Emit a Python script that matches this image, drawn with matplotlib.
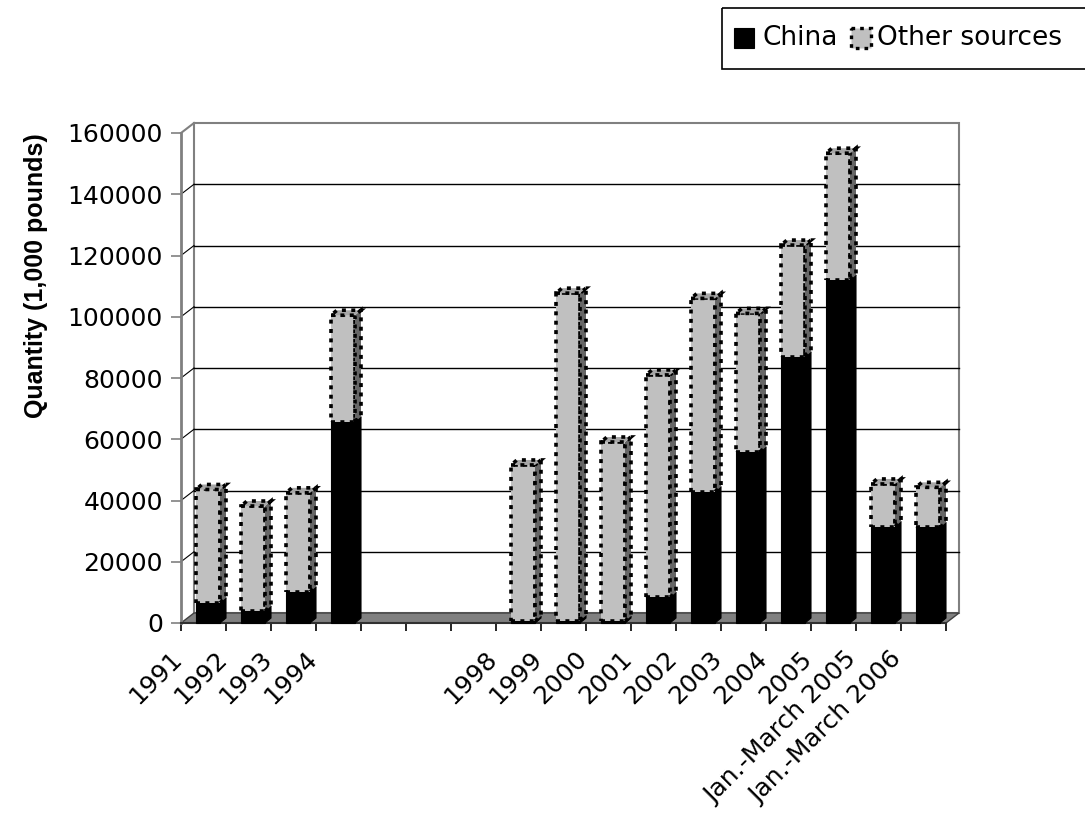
import numpy as np
import matplotlib.pyplot as plt
from matplotlib.patches import Polygon, Rectangle

plt.rcParams['font.family'] = ['DejaVu Sans']

# data (1,000 pounds)
categories = ["1991", "1992", "1993", "1994", "", "", "", "1998", "1999", "2000",
              "2001", "2002", "2003", "2004", "2005",
              "Jan.-March 2005", "Jan.-March 2006"]
china = [6600, 3900, 10200, 65700, 0, 0, 0, 600, 800, 600,
         8400, 42900, 55900, 86900, 112000, 31500, 31200]
other = [37000, 34300, 32300, 34800, 0, 0, 0, 51000, 106900, 58500,
         72600, 63100, 45200, 36500, 41400, 13900, 13100]
yticks = list(range(0, 160001, 20000))

n = len(categories)
ymax = 160000

fig = plt.figure(figsize=(10.85, 8.27), dpi=100)
ax = fig.add_axes([181 / 1085, 1 - 623 / 827, 765 / 1085, 490 / 827])
ax.set_xlim(0, n)
ax.set_ylim(0, ymax)

# pixel -> data helpers for the fake 3d look
px_x = n / 765
px_y = ymax / 490
DX, DY = 13 * px_x, 10 * px_y      # depth of the plot box
off, w = 15 * px_x, 24 * px_x      # bar front face
bdx, bdy = 6 * px_x, 5 * px_y      # bar depth

# back wall, gridlines, floor
ax.add_patch(Rectangle((DX, DY), n, ymax, fc='white', ec='#808080', lw=1.5,
                       clip_on=False, zorder=0))
for v in yticks[1:-1]:
    ax.plot([DX, n + DX], [v + DY, v + DY], color='black', lw=1, clip_on=False, zorder=1)
    ax.plot([0, DX], [v, v + DY], color='black', lw=0.8, clip_on=False, zorder=1)
ax.plot([0, DX], [ymax, ymax + DY], color='#808080', lw=1.5, clip_on=False, zorder=1)
ax.add_patch(Polygon([(0, 0), (n, 0), (n + DX, DY), (DX, DY)], closed=True,
                     fc='#808080', ec='#404040', lw=1, clip_on=False, zorder=1))


def block(i, bottom, height, face, side, top, edge, ls, lw):
    x0 = i + off
    x1 = x0 + w
    b, t = bottom, bottom + height
    kw = dict(ec=edge, ls=ls, lw=lw, clip_on=False, zorder=3, joinstyle='miter')
    ax.add_patch(Rectangle((x0, b), w, height, fc=face, **kw))
    ax.add_patch(Polygon([(x1, b), (x1 + bdx, b + bdy), (x1 + bdx, t + bdy), (x1, t)],
                         closed=True, fc=side, **kw))
    ax.add_patch(Polygon([(x0, t), (x1, t), (x1 + bdx, t + bdy), (x0 + bdx, t + bdy)],
                         closed=True, fc=top, **kw))


dotted = (0, (1.1, 1.5))
for i in range(n):
    if china[i] + other[i] == 0:
        continue
    if china[i] > 0:
        block(i, 0, china[i], 'black', 'black', '#202020', 'black', 'solid', 0.8)
    if other[i] > 0:
        block(i, china[i], other[i], '#C0C0C0', '#666666', '#A6A6A6', 'black', dotted, 2.6)

# axes styling
for s in ['top', 'right']:
    ax.spines[s].set_visible(False)
ax.spines['left'].set_color('#808080')
ax.spines['left'].set_linewidth(2)
ax.spines['bottom'].set_color('#303030')
ax.spines['bottom'].set_linewidth(1.5)

ax.set_yticks(yticks)
ax.set_yticklabels([str(v) for v in yticks], fontsize=18)
ax.tick_params(axis='y', length=7, width=1.2, color='#808080', pad=6)

ax.set_xticks(np.arange(n + 1))
ax.set_xticklabels([])
ax.tick_params(axis='x', which='major', length=6, width=1.2, color='black')
ax.set_xticks(np.arange(n) + 0.12, minor=True)
ax.set_xticklabels(categories, minor=True, rotation=45, ha='right', va='top', fontsize=18)
ax.tick_params(axis='x', which='minor', length=0, pad=17)

fig.text(36 / 1085, 1 - 276 / 827, 'Quantity (1,000 pounds)', rotation=90,
         fontsize=18, fontweight='bold', ha='center', va='center',
         family=['Liberation Sans', 'DejaVu Sans'])

# legend, drawn in pixel space
lg = fig.add_axes([0, 0, 1, 1])
lg.set_xlim(0, 1085)
lg.set_ylim(827, 0)
lg.axis('off')
lg.add_patch(Rectangle((722, 8), 380, 61, fill=False, ec='black', lw=1.2))
lg.add_patch(Rectangle((734, 28), 20, 20, fc='black', ec='black', lw=0.8))
lg.text(762, 38, 'China', fontsize=19, va='center', ha='left')
lg.add_patch(Rectangle((851, 28), 20, 20, fc='#C0C0C0', ec='black', ls=dotted, lw=2.4))
lg.text(877, 38, 'Other sources', fontsize=19, va='center', ha='left')

fig.savefig('out.png', dpi=100)
